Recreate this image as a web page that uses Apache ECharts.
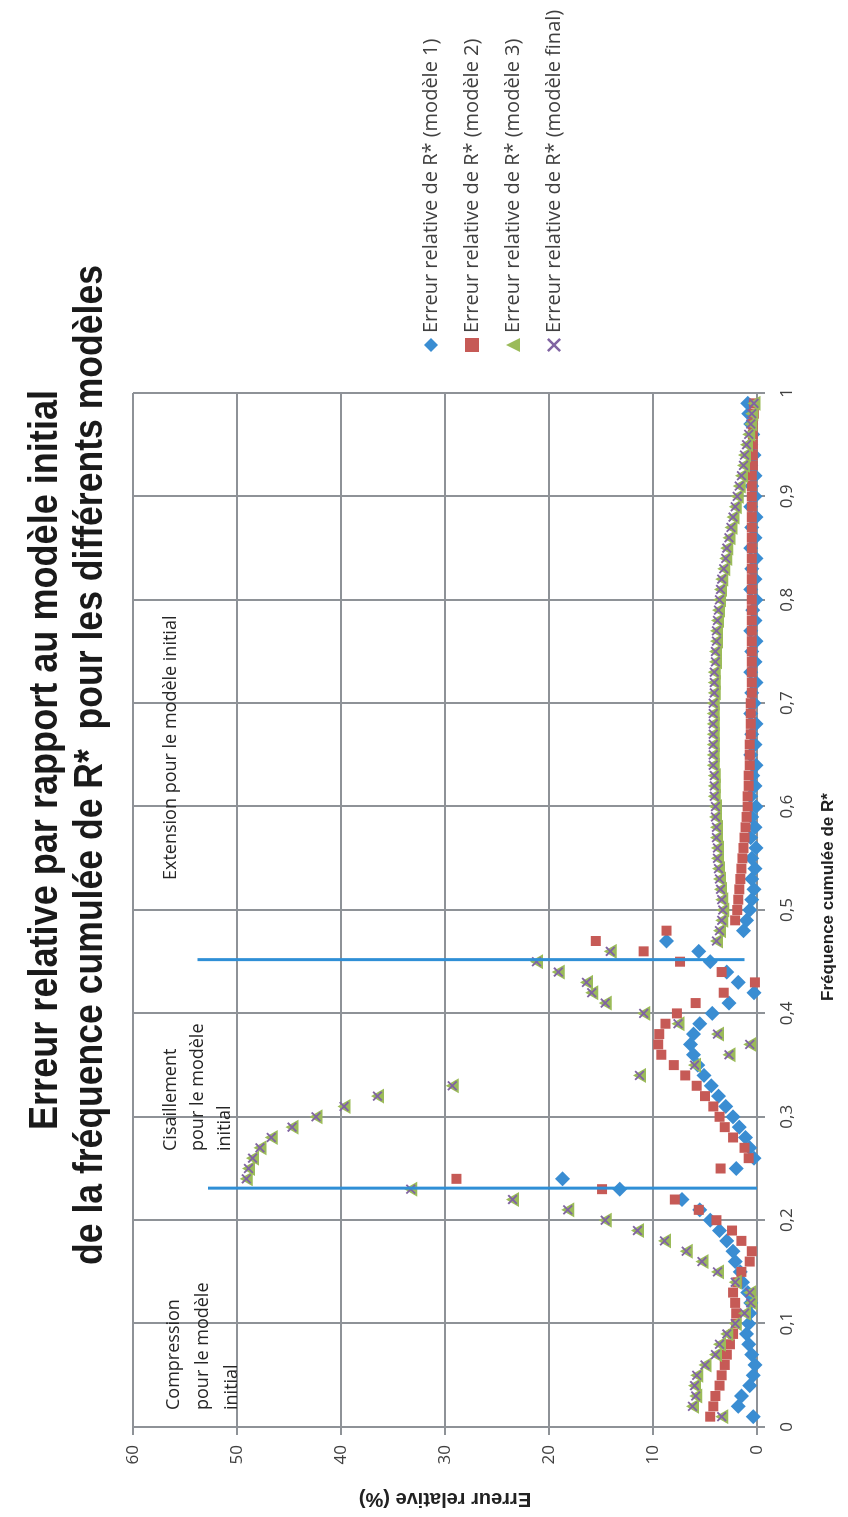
<!DOCTYPE html>
<html>
<head>
<meta charset="utf-8">
<script src="https://cdn.jsdelivr.net/npm/echarts@6/dist/echarts.min.js"></script>
<style>
html,body{margin:0;padding:0;background:#fff;overflow:hidden;}
#wrap{position:absolute;left:0;top:0;width:848px;height:1517px;overflow:hidden;}
#chart{position:absolute;left:0;top:0;width:1517px;height:848px;transform-origin:0 0;transform:translate(0px,1517px) rotate(-90deg);}
</style>
</head>
<body>
<div id="wrap"><div id="chart"></div></div>
<script>
// ---- data ----
const freq = [0.01,0.02,0.03,0.04,0.05,0.06,0.07,0.08,0.09,0.10,
  0.11,0.12,0.13,0.14,0.15,0.16,0.17,0.18,0.19,0.20,
  0.21,0.22,0.23,0.24,0.25,0.26,0.27,0.28,0.29,0.30,
  0.31,0.32,0.33,0.34,0.35,0.36,0.37,0.38,0.39,0.40,
  0.41,0.42,0.43,0.44,0.45,0.46,0.47,0.48,0.49,0.50,
  0.51,0.52,0.53,0.54,0.55,0.56,0.57,0.58,0.59,0.60,
  0.61,0.62,0.63,0.64,0.65,0.66,0.67,0.68,0.69,0.70,
  0.71,0.72,0.73,0.74,0.75,0.76,0.77,0.78,0.79,0.80,
  0.81,0.82,0.83,0.84,0.85,0.86,0.87,0.88,0.89,0.90,
  0.91,0.92,0.93,0.94,0.95,0.96,0.97,0.98,0.99];

const errModel1 = [0.35,1.8,1.5,0.7,0.35,0.2,0.5,0.8,1.0,0.8,
  0.7,0.6,0.9,1.4,1.6,2.1,2.3,2.9,3.6,4.5,
  5.5,7.2,13.2,18.7,2.0,0.3,0.7,1.1,1.7,2.3,
  3.0,3.7,4.4,5.1,5.7,6.1,6.4,6.1,5.5,4.3,
  2.7,0.3,1.8,2.9,4.5,5.6,8.7,1.3,1.0,0.7,
  0.5,0.3,0.5,0.2,0.5,0.1,0.6,0.2,0.5,0.1,
  0.6,0.2,0.4,0.1,0.6,0.2,0.5,0.1,0.6,0.3,
  0.5,0.1,0.6,0.2,0.5,0.1,0.6,0.2,0.4,0.1,
  0.6,0.2,0.5,0.1,0.6,0.2,0.5,0.1,0.6,0.2,
  0.5,0.2,0.6,0.3,0.6,0.4,0.6,0.8,0.9];

const errModel2 = [4.5,4.2,4.0,3.6,3.4,3.1,2.9,2.6,2.3,2.0,
  2.0,2.1,2.3,1.9,1.5,0.7,0.5,1.5,2.4,3.9,
  5.6,7.9,14.9,28.9,3.5,0.8,1.2,2.3,3.1,3.6,
  4.2,5.0,5.8,6.9,8.0,9.2,9.5,9.4,8.8,7.7,
  5.9,3.2,0.2,3.4,7.4,10.9,15.5,8.7,2.1,1.9,
  1.8,1.7,1.6,1.5,1.4,1.3,1.2,1.1,1.0,0.9,
  0.9,0.8,0.8,0.7,0.7,0.7,0.6,0.6,0.6,0.6,
  0.5,0.5,0.5,0.5,0.5,0.5,0.5,0.5,0.5,0.5,
  0.5,0.5,0.5,0.5,0.5,0.5,0.5,0.5,0.5,0.5,
  0.5,0.5,0.4,0.4,0.4,0.4,0.4,0.3,0.3];

const errModel3 = [3.4,6.2,5.9,6.0,5.8,5.0,4.0,3.6,2.9,2.1,
  1.2,0.6,0.7,2.1,3.8,5.3,6.8,8.9,11.5,14.6,
  18.2,23.5,33.3,49.1,48.9,48.5,47.8,46.7,44.7,42.4,
  39.7,36.5,29.3,11.3,6.0,2.7,0.7,3.8,7.6,10.9,
  14.6,15.9,16.4,19.1,21.2,14.1,3.9,3.6,3.4,3.3,
  3.4,3.5,3.6,3.7,3.8,3.8,3.9,3.9,4.0,4.0,
  4.1,4.1,4.1,4.2,4.2,4.2,4.2,4.2,4.2,4.2,
  4.1,4.1,4.1,4.0,4.0,3.9,3.9,3.8,3.7,3.6,
  3.5,3.4,3.2,3.0,2.9,2.7,2.5,2.3,2.1,1.9,
  1.7,1.5,1.3,1.2,1.0,0.8,0.6,0.5,0.3];

const errModelFinal = [3.4,6.2,5.9,6.0,5.8,5.0,4.0,3.6,2.9,2.1,
  1.2,0.6,0.7,2.1,3.8,5.3,6.8,8.9,11.5,14.6,
  18.2,23.5,33.3,49.1,48.9,48.5,47.8,46.7,44.7,42.4,
  39.7,36.5,29.3,11.3,6.0,2.7,0.7,3.8,7.6,10.9,
  14.6,15.9,16.4,19.1,21.2,14.1,3.9,3.6,3.4,3.3,
  3.4,3.5,3.6,3.7,3.8,3.8,3.9,3.9,4.0,4.0,
  4.1,4.1,4.1,4.2,4.2,4.2,4.2,4.2,4.2,4.2,
  4.1,4.1,4.1,4.0,4.0,3.9,3.9,3.8,3.7,3.6,
  3.5,3.4,3.2,3.0,2.9,2.7,2.5,2.3,2.1,1.9,
  1.7,1.5,1.3,1.2,1.0,0.8,0.6,0.5,0.3];

const seriesNames = ['Erreur relative de R* (modèle 1)','Erreur relative de R* (modèle 2)',
  'Erreur relative de R* (modèle 3)','Erreur relative de R* (modèle final)'];

// separator lines (frequency, lower error, upper error)
const separatorFreq = [0.231, 0.452];
const separatorLow = [0, 1.2];
const separatorHigh = [52.8, 53.8];

const annotationTexts = ['Compression\npour le modèle\ninitial','Cisaillement\npour le modèle\ninitial','Extension pour le modèle initial'];
const titleLines = ['Erreur relative par rapport au modèle initial','de la fréquence cumulée de R*  pour les différents modèles'];
const xAxisName = 'Fréquence cumulée de R*';
const yAxisName = 'Erreur relative (%)';

// ---- chart ----
const pair = (arr) => freq.map((f,i) => [f, arr[i]]);
const FONT = "'Open Sans', 'Noto Sans', sans-serif";
const BOLDF = "'Liberation Sans', Arial, sans-serif";
const GRIDC = '#8E9297';
const xPath = 'path://M0,1.3 L1.3,0 L5,3.7 L8.7,0 L10,1.3 L6.3,5 L10,8.7 L8.7,10 L5,6.3 L1.3,10 L0,8.7 L3.7,5 Z';

// condensed look: measure natural width, then squeeze horizontally to the reference length
const measureCtx = document.createElement('canvas').getContext('2d');
function squeezed(text, font, targetWidth, cx, cy, fill) {
  measureCtx.font = font;
  const w = measureCtx.measureText(text).width;
  return {type: 'text', x: cx, y: cy, scaleX: targetWidth / w, scaleY: 1, z: 10,
    style: {text: text, font: font, textAlign: 'center', textVerticalAlign: 'middle', fill: fill}};
}

const chart = echarts.init(document.getElementById('chart'), null, {renderer:'canvas'});

const seriesDefs = [
  {name: seriesNames[0], data: pair(errModel1), symbol: 'diamond', symbolSize: 15, color: '#3A8DD2'},
  {name: seriesNames[1], data: pair(errModel2), symbol: 'rect', symbolSize: 10, color: '#C65A56'},
  {name: seriesNames[2], data: pair(errModel3), symbol: 'triangle', symbolSize: [15,13], color: '#9BBB59'},
  {name: seriesNames[3], data: pair(errModelFinal), symbol: xPath, symbolSize: 10, color: '#8064A2'}
];

const series = seriesDefs.map((s, i) => ({
  type: 'scatter', name: s.name, data: s.data, symbol: s.symbol, symbolSize: s.symbolSize,
  itemStyle: {color: s.color, opacity: 1}, clip: false, z: 2 + i, emphasis: {disabled: true}
}));

separatorFreq.forEach((f, i) => {
  series.push({
    type: 'line', name: 'sep' + i, data: [[f, separatorLow[i]], [f, separatorHigh[i]]],
    showSymbol: false, symbol: 'none', clip: false,
    lineStyle: {color: '#2F8FD6', width: 3}, z: 8, silent: true
  });
});

const option = {
  animation: false,
  backgroundColor: '#fff',
  legend: {
    orient: 'vertical', left: 1160, top: 416,
    itemWidth: 14, itemHeight: 14, itemGap: 21,
    data: seriesNames,
    textStyle: {fontFamily: FONT, fontSize: 20, lineHeight: 20, color: '#404040'}
  },
  grid: {left: 90, top: 133, width: 1034, height: 624, containLabel: false},
  xAxis: {
    type: 'value', min: 0, max: 1, interval: 0.1,
    name: xAxisName, nameLocation: 'middle', nameGap: 63,
    nameTextStyle: {fontFamily: BOLDF, fontWeight: 'bold', fontSize: 17, color: '#222', padding: [0, 0, 0, 26]},
    axisLine: {show: true, onZero: false, lineStyle: {color: GRIDC, width: 2}},
    axisTick: {show: true, length: 8, lineStyle: {color: GRIDC, width: 2}},
    axisLabel: {margin: 22, fontFamily: FONT, fontSize: 17, color: '#404040',
      formatter: v => (Math.round(v*10)/10).toString().replace('.', ',')},
    splitLine: {show: true, lineStyle: {color: GRIDC, width: 2}}
  },
  yAxis: {
    type: 'value', min: 0, max: 60, interval: 10,
    name: yAxisName, nameLocation: 'middle', nameGap: 62, nameRotate: 90,
    nameTextStyle: {fontFamily: BOLDF, fontWeight: 'bold', fontSize: 20, color: '#222'},
    axisLine: {show: true, onZero: false, lineStyle: {color: GRIDC, width: 2}},
    axisTick: {show: true, length: 8, lineStyle: {color: GRIDC, width: 2}},
    axisLabel: {margin: 18, fontFamily: FONT, fontSize: 17, color: '#404040'},
    splitLine: {show: true, lineStyle: {color: GRIDC, width: 2}}
  },
  graphic: [
    squeezed(titleLines[0], 'bold 40px ' + BOLDF, 740, 757, 46, '#1a1a1a'),
    squeezed(titleLines[1], 'bold 40px ' + BOLDF, 1000, 752, 91, '#1a1a1a'),
    {type: 'text', left: 107, top: 159, z: 10, style: {text: annotationTexts[0], font: '18px ' + FONT, lineHeight: 29, fill: '#262626'}},
    {type: 'text', left: 366, top: 157, z: 10, style: {text: annotationTexts[1], font: '18px ' + FONT, lineHeight: 27, fill: '#262626'}},
    {type: 'text', left: 637, top: 157, z: 10, style: {text: annotationTexts[2], font: '18px ' + FONT, lineHeight: 27, fill: '#262626'}}
  ],
  series: series
};
chart.setOption(option);
</script>
</body>
</html>
